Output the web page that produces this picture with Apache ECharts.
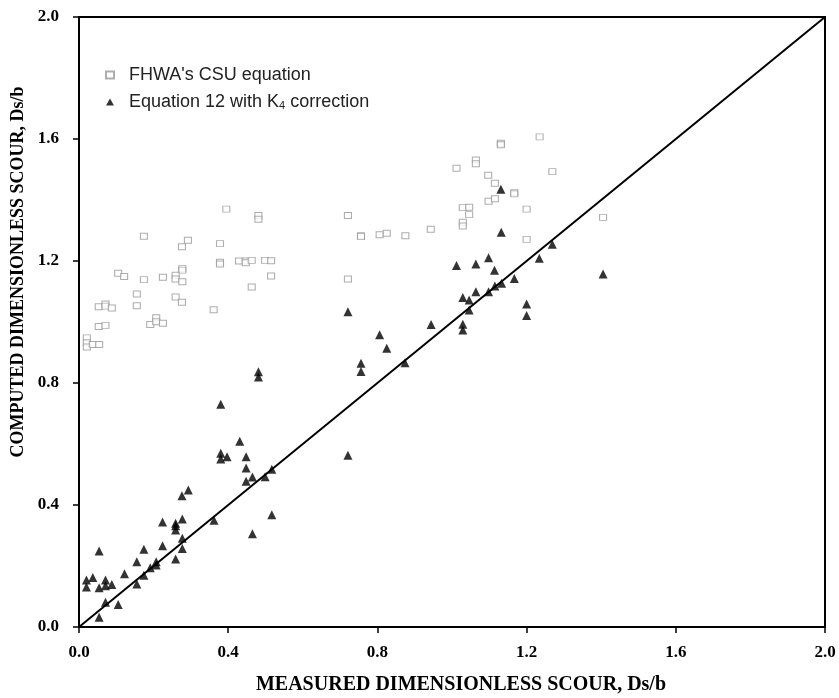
<!DOCTYPE html>
<html>
<head>
<meta charset="utf-8">
<script src="https://cdn.jsdelivr.net/npm/echarts@6/dist/echarts.min.js"></script>
<style>html,body{margin:0;padding:0;background:#fff}#c{width:839px;height:698px}</style>
</head>
<body>
<div id="c"></div>
<script>
var fhwaMeasured = [0.395,0.481,0.481,0.174,0.292,0.276,0.378,0.378,0.378,0.429,0.447,0.447,0.463,0.499,0.515,0.277,0.277,0.105,0.121,0.174,0.225,0.259,0.259,0.277,0.515,0.463,0.155,0.155,0.259,0.276,0.361,0.053,0.071,0.071,0.088,0.053,0.071,0.191,0.207,0.207,0.225,0.021,0.021,0.021,0.037,0.054,0.721,1.029,1.046,1.046,1.098,1.115,1.200,0.756,0.756,0.806,0.825,0.875,0.943,1.029,1.029,1.200,0.721,1.405,1.235,1.131,1.131,1.064,1.064,1.012,1.269,1.097,1.115,1.167,1.167];
var fhwaComputed = [1.370,1.349,1.337,1.281,1.268,1.247,1.257,1.196,1.190,1.200,1.200,1.194,1.202,1.202,1.201,1.175,1.170,1.160,1.149,1.139,1.147,1.153,1.141,1.132,1.151,1.115,1.092,1.053,1.082,1.065,1.040,1.050,1.059,1.052,1.046,0.985,0.989,0.992,1.014,1.001,0.996,0.948,0.932,0.918,0.926,0.926,1.349,1.375,1.376,1.352,1.396,1.404,1.370,1.283,1.280,1.286,1.291,1.283,1.304,1.327,1.315,1.271,1.141,1.343,1.607,1.586,1.581,1.531,1.519,1.504,1.493,1.481,1.455,1.424,1.420];
var eq12Measured = [0.380,0.431,0.380,0.380,0.397,0.448,0.448,0.448,0.465,0.499,0.517,0.517,0.465,0.362,0.276,0.293,0.224,0.259,0.259,0.259,0.277,0.277,0.277,0.259,0.224,0.174,0.155,0.207,0.207,0.191,0.174,0.155,0.122,0.054,0.020,0.020,0.037,0.054,0.071,0.071,0.088,0.071,0.105,0.054,0.721,1.132,1.269,1.234,1.012,1.064,1.098,1.114,1.167,1.133,1.115,1.098,1.064,1.029,1.046,1.046,1.200,1.200,1.029,1.029,0.944,0.721,0.806,0.825,0.756,0.756,0.874,1.405,0.481,0.481,1.131];
var eq12Computed = [0.730,0.609,0.570,0.551,0.558,0.558,0.521,0.478,0.492,0.493,0.517,0.368,0.306,0.350,0.430,0.449,0.344,0.340,0.332,0.318,0.354,0.291,0.257,0.223,0.266,0.255,0.214,0.214,0.203,0.194,0.170,0.141,0.175,0.249,0.154,0.131,0.162,0.129,0.154,0.135,0.139,0.081,0.074,0.032,0.563,1.294,1.255,1.209,1.185,1.190,1.211,1.170,1.143,1.127,1.118,1.099,1.099,1.080,1.072,1.039,1.059,1.021,0.993,0.974,0.992,1.034,0.958,0.914,0.865,0.838,0.866,1.157,0.837,0.820,1.435];
var refLineX = [0, 2];
var refLineY = [0, 2];

function zip(a, b) { return a.map(function (v, i) { return [v, b[i]]; }); }

var tickFont = { fontFamily: 'Liberation Serif', fontWeight: 'bold', fontSize: 17, color: '#000' };

var chart = echarts.init(document.getElementById('c'));
chart.setOption({
  animation: false,
  backgroundColor: '#fff',
  grid: { left: 79, right: 14, top: 17, bottom: 71, outerBoundsMode: 'none', containLabel: false, show: true, borderColor: '#000', borderWidth: 2, backgroundColor: 'transparent' },
  legend: {
    orient: 'vertical', left: 100, top: 61, itemGap: 9,
    itemWidth: 8, itemHeight: 7,
    data: ['FHWA\'s CSU equation', 'Equation 12 with K4 correction'],
    formatter: function (name) {
      if (name.indexOf('K4') >= 0) return '{t|Equation 12 with K}{s|4}{t| correction}';
      return '{t|' + name + '}';
    },
    textStyle: {
      padding: [0, 0, 0, 10],
      rich: {
        t: { fontFamily: 'Liberation Sans', fontSize: 18, color: '#222', lineHeight: 17 },
        s: { fontFamily: 'Liberation Sans', fontSize: 11, color: '#222', verticalAlign: 'bottom', padding: [7, 0, 0, 0] }
      }
    }
  },
  xAxis: {
    type: 'value', min: 0, max: 2, interval: 0.4,
    name: 'MEASURED DIMENSIONLESS SCOUR, Ds/b', nameLocation: 'middle', nameGap: 48,
    nameTextStyle: { fontFamily: 'Liberation Serif', fontWeight: 'bold', fontSize: 20, color: '#000', padding: [0, 0, 0, 18] },
    axisLine: { show: true, lineStyle: { color: '#000', width: 2 } },
    axisTick: { show: true, inside: false, length: 6, lineStyle: { color: '#000', width: 1.5 } },
    axisLabel: Object.assign({ margin: 17, formatter: function (v) { return v.toFixed(1); } }, tickFont),
    splitLine: { show: false }
  },
  yAxis: {
    type: 'value', min: 0, max: 2, interval: 0.4,
    name: 'COMPUTED DIMENSIONLESS SCOUR, Ds/b', nameLocation: 'middle', nameGap: 48,
    nameTextStyle: { fontFamily: 'Liberation Serif', fontWeight: 'bold', fontSize: 18, color: '#000', padding: [0, 0, 0, 100] },
    axisLine: { show: true, lineStyle: { color: '#000', width: 2 } },
    axisTick: { show: true, inside: false, length: 6, lineStyle: { color: '#000', width: 1.5 } },
    axisLabel: Object.assign({ margin: 20, formatter: function (v) { return v.toFixed(1); } }, tickFont),
    splitLine: { show: false }
  },
  series: [
    {
      name: 'ref', type: 'line', data: zip(refLineX, refLineY), symbol: 'none',
      lineStyle: { color: '#000', width: 2 }, z: 1, silent: true
    },
    {
      name: 'FHWA\'s CSU equation', type: 'scatter', data: zip(fhwaMeasured, fhwaComputed),
      symbol: 'rect', symbolSize: [7, 6],
      itemStyle: { color: '#fff', borderColor: '#999', borderWidth: 1 }, z: 2
    },
    {
      name: 'Equation 12 with K4 correction', type: 'scatter', data: zip(eq12Measured, eq12Computed),
      symbol: 'triangle', symbolSize: 9,
      itemStyle: { color: '#000' }, z: 3
    }
  ]
});
</script>
</body>
</html>
